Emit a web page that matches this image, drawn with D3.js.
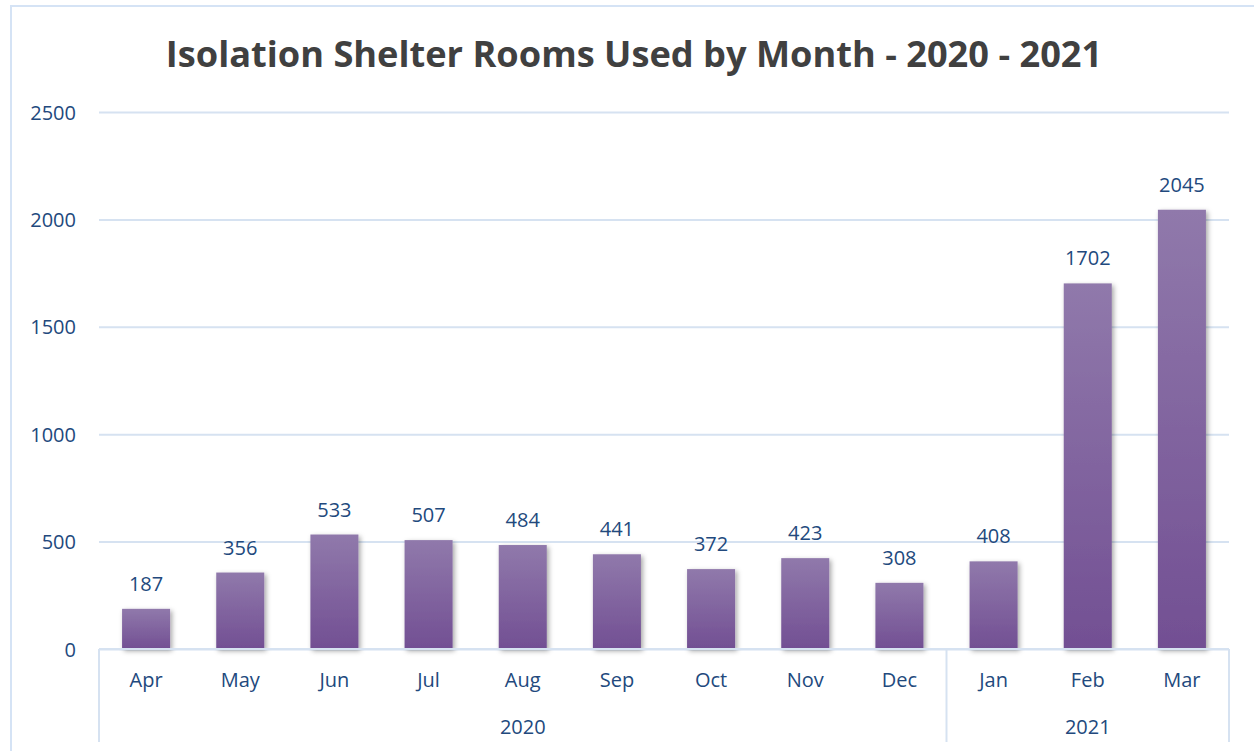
<!DOCTYPE html>
<html>
<head>
<meta charset="utf-8">
<script src="https://cdn.jsdelivr.net/npm/d3@7"></script>
<style>
  body { margin: 0; background: #fff; }
  svg { display: block; }
</style>
</head>
<body>
<div id="chart"></div>
<script>
// data
var months = ["Apr", "May", "Jun", "Jul", "Aug", "Sep", "Oct", "Nov", "Dec", "Jan", "Feb", "Mar"];
var years = ["2020", "2020", "2020", "2020", "2020", "2020", "2020", "2020", "2020", "2021", "2021", "2021"];
var rooms = [187, 356, 533, 507, 484, 441, 372, 423, 308, 408, 1702, 2045];
var yTicks = [0, 500, 1000, 1500, 2000, 2500];
var titleText = "Isolation Shelter Rooms Used by Month - 2020 - 2021";

function init() {
	var w = 1254, h = 751;
	var left = 99, right = 1229, top = 112, bottom = 649;
	var axisBottom = 742;
	var blue = "#22497d";
	var grid = "#d6e2f1";

	var svg = d3.select("#chart").append("svg")
		.attr("width", w)
		.attr("height", h);

	var defs = svg.append("defs");
	var grad = defs.append("linearGradient")
		.attr("id", "barGrad")
		.attr("x1", 0).attr("y1", 0).attr("x2", 0).attr("y2", 1);
	grad.append("stop").attr("offset", "0%").attr("stop-color", "#9079ab");
	grad.append("stop").attr("offset", "100%").attr("stop-color", "#724f93");

	var shadow = defs.append("filter")
		.attr("id", "shadow")
		.attr("x", "-20%").attr("y", "-10%")
		.attr("width", "150%").attr("height", "130%");
	shadow.append("feDropShadow")
		.attr("dx", 2).attr("dy", 2)
		.attr("stdDeviation", 2.5)
		.attr("flood-color", "#000")
		.attr("flood-opacity", 0.35);

	// chart border
	svg.append("rect")
		.attr("x", 11).attr("y", 6)
		.attr("width", w + 20).attr("height", h + 20)
		.attr("fill", "none")
		.attr("stroke", "#d5e3f5")
		.attr("stroke-width", 2);

	var xScale = d3.scaleBand()
		.domain(d3.range(months.length))
		.range([left, right])
		.paddingInner(0.49)
		.paddingOuter(0.245);

	var yScale = d3.scaleLinear()
		.domain([0, 2500])
		.range([bottom, top]);

	// gridlines + y labels
	var yAxis = d3.axisLeft(yScale)
		.tickValues(yTicks)
		.tickSize(-(right - left))
		.tickPadding(23)
		.tickFormat(d3.format("d"));

	var gy = svg.append("g")
		.attr("transform", "translate(" + left + ",0)")
		.call(yAxis);
	gy.select(".domain").remove();
	gy.selectAll(".tick line")
		.attr("stroke", grid)
		.attr("stroke-width", 2);
	gy.selectAll(".tick text")
		.attr("fill", blue)
		.attr("font-family", "'Open Sans', sans-serif")
		.attr("font-size", 20)
		.attr("dy", "0.35em");

	// bars
	svg.selectAll("rect.bar")
		.data(rooms)
		.enter()
		.append("rect")
		.attr("class", "bar")
		.attr("x", function(d, i) { return xScale(i); })
		.attr("y", function(d) { return yScale(d); })
		.attr("width", xScale.bandwidth())
		.attr("height", function(d) { return bottom - yScale(d); })
		.attr("fill", "url(#barGrad)")
		.attr("filter", "url(#shadow)");

	// value labels
	svg.selectAll("text.val")
		.data(rooms)
		.enter()
		.append("text")
		.attr("class", "val")
		.attr("x", function(d, i) { return xScale(i) + xScale.bandwidth() / 2; })
		.attr("y", function(d) { return yScale(d) - 18; })
		.attr("text-anchor", "middle")
		.attr("fill", blue)
		.attr("font-family", "'Open Sans', sans-serif")
		.attr("font-size", 20)
		.text(function(d) { return d; });

	// category axis (two levels)
	var gx = svg.append("g");
	gx.append("line")
		.attr("x1", left).attr("x2", right)
		.attr("y1", bottom).attr("y2", bottom)
		.attr("stroke", grid).attr("stroke-width", 2);

	gx.selectAll("text.month")
		.data(months)
		.enter()
		.append("text")
		.attr("class", "month")
		.attr("x", function(d, i) { return xScale(i) + xScale.bandwidth() / 2; })
		.attr("y", 687)
		.attr("text-anchor", "middle")
		.attr("fill", blue)
		.attr("font-family", "'Open Sans', sans-serif")
		.attr("font-size", 20)
		.text(function(d) { return d; });

	// year groups
	var step = xScale.step();
	var groups = [];
	years.forEach(function(y, i) {
		var g = groups[groups.length - 1];
		if (!g || g.year !== y) {
			groups.push({ year: y, start: i, end: i });
		} else {
			g.end = i;
		}
	});

	var edges = [left];
	groups.forEach(function(g) { edges.push(left + (g.end + 1) * step); });

	gx.selectAll("line.sep")
		.data(edges)
		.enter()
		.append("line")
		.attr("class", "sep")
		.attr("x1", function(d) { return d; })
		.attr("x2", function(d) { return d; })
		.attr("y1", bottom)
		.attr("y2", axisBottom)
		.attr("stroke", grid)
		.attr("stroke-width", 2);

	gx.selectAll("text.year")
		.data(groups)
		.enter()
		.append("text")
		.attr("class", "year")
		.attr("x", function(g) { return left + (g.start + g.end + 1) / 2 * step; })
		.attr("y", 734)
		.attr("text-anchor", "middle")
		.attr("fill", blue)
		.attr("font-family", "'Open Sans', sans-serif")
		.attr("font-size", 20)
		.text(function(g) { return g.year; });

	// title
	var title = svg.append("text")
		.attr("x", 634)
		.attr("y", 67)
		.attr("text-anchor", "middle")
		.attr("fill", "#404040")
		.attr("font-family", "'Open Sans', sans-serif")
		.attr("font-weight", "bold")
		.attr("font-size", 36)
		.text(titleText);
	var tw = title.node().getComputedTextLength();
	title.attr("font-size", 36 * 937 / tw);
}

window.onload = init;
</script>
</body>
</html>
